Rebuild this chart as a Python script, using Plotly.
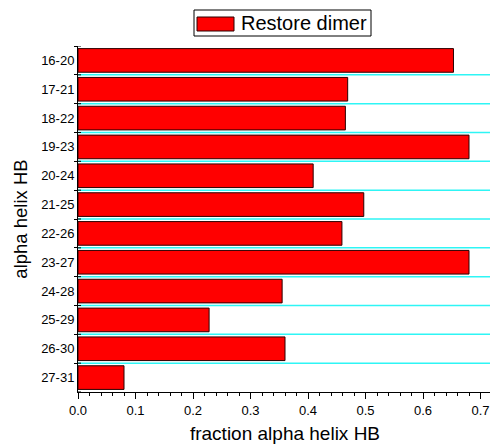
import plotly.graph_objects as go

categories = ["16-20", "17-21", "18-22", "19-23", "20-24", "21-25",
              "22-26", "23-27", "24-28", "25-29", "26-30", "27-31"]
values = [0.653, 0.469, 0.465, 0.680, 0.409, 0.497,
          0.459, 0.680, 0.355, 0.228, 0.360, 0.080]
series_name = "Restore dimer"
x_ticks = [0.0, 0.1, 0.2, 0.3, 0.4, 0.5, 0.6, 0.7]

FONT = "Arial, Liberation Sans, sans-serif"
# the page body has the browser's default 8px margin, so the figure is
# drawn 8px in from the top-left corner of the window
OFF = 8
W, H = 498 - OFF, 446 - OFF
L, R, T, B = 78 - OFF, 6, 46 - OFF, 54
PW, PH = W - L - R, H - T - B


def px_x(p):
    return (p - OFF - L) / PW


def px_y(p):
    return (H - B - (p - OFF)) / PH


fig = go.Figure()
fig.add_trace(go.Bar(
    y=categories, x=values, orientation="h", name=series_name,
    width=0.82, showlegend=False,
    marker=dict(color="#FF0000", line=dict(color="#2a0000", width=1)),
))

n = len(categories)
shapes = []
# cyan separators between categories
for i in range(n - 1):
    b = i + 0.5
    shapes.append(dict(type="line", xref="paper", yref="y", x0=0, x1=px_x(498),
                       y0=b, y1=b, line=dict(color="#2EF5F5", width=1.5),
                       layer="below"))
# inner half of the boundary ticks on the y axis
for i in range(n + 1):
    b = i - 0.5
    shapes.append(dict(type="line", xref="x", yref="y", xsizemode="pixel",
                       xanchor=0, x0=0, x1=3, y0=b, y1=b,
                       line=dict(color="black", width=1)))

# framed legend
shapes.append(dict(type="rect", xref="paper", yref="paper",
                   x0=px_x(194), x1=px_x(371), y0=px_y(36), y1=px_y(10),
                   line=dict(color="black", width=1), fillcolor="white"))
shapes.append(dict(type="rect", xref="paper", yref="paper",
                   x0=px_x(197), x1=px_x(234), y0=px_y(31), y1=px_y(17),
                   line=dict(color="#2a0000", width=1), fillcolor="#FF0000"))

annotations = [
    dict(text=series_name, xref="paper", yref="paper",
         x=px_x(239), y=px_y(23.5), xanchor="left", yanchor="middle",
         showarrow=False, font=dict(size=20, family=FONT)),
]

fig.update_layout(
    width=W, height=H,
    margin=dict(l=L, r=R, t=T, b=B, autoexpand=False),
    paper_bgcolor="white", plot_bgcolor="white",
    font=dict(family=FONT, color="black"),
    shapes=shapes, annotations=annotations,
    showlegend=False,
    xaxis=dict(
        range=[0, 0.72], tickvals=x_ticks, tickformat=".1f",
        ticks="outside", ticklen=6, tickwidth=1, tickcolor="black",
        minor=dict(dtick=0.02, tick0=0, ticks="outside", ticklen=3,
                   tickcolor="black", tickwidth=1),
        showline=True, linecolor="black", linewidth=1,
        showgrid=False, zeroline=False, automargin=False,
        tickfont=dict(size=13),
        title=dict(text="fraction alpha helix HB", font=dict(size=19),
                   standoff=10),
    ),
    yaxis=dict(
        type="category", categoryorder="array", categoryarray=categories,
        range=[n - 0.5, -0.5], tickson="boundaries",
        ticks="outside", ticklen=3, tickwidth=1, tickcolor="black",
        showline=True, linecolor="black", linewidth=1,
        showgrid=False, zeroline=False, automargin=False,
        tickfont=dict(size=13),
        title=dict(text="alpha helix HB", font=dict(size=18.5), standoff=8),
    ),
)

fig.write_html("out.html")
